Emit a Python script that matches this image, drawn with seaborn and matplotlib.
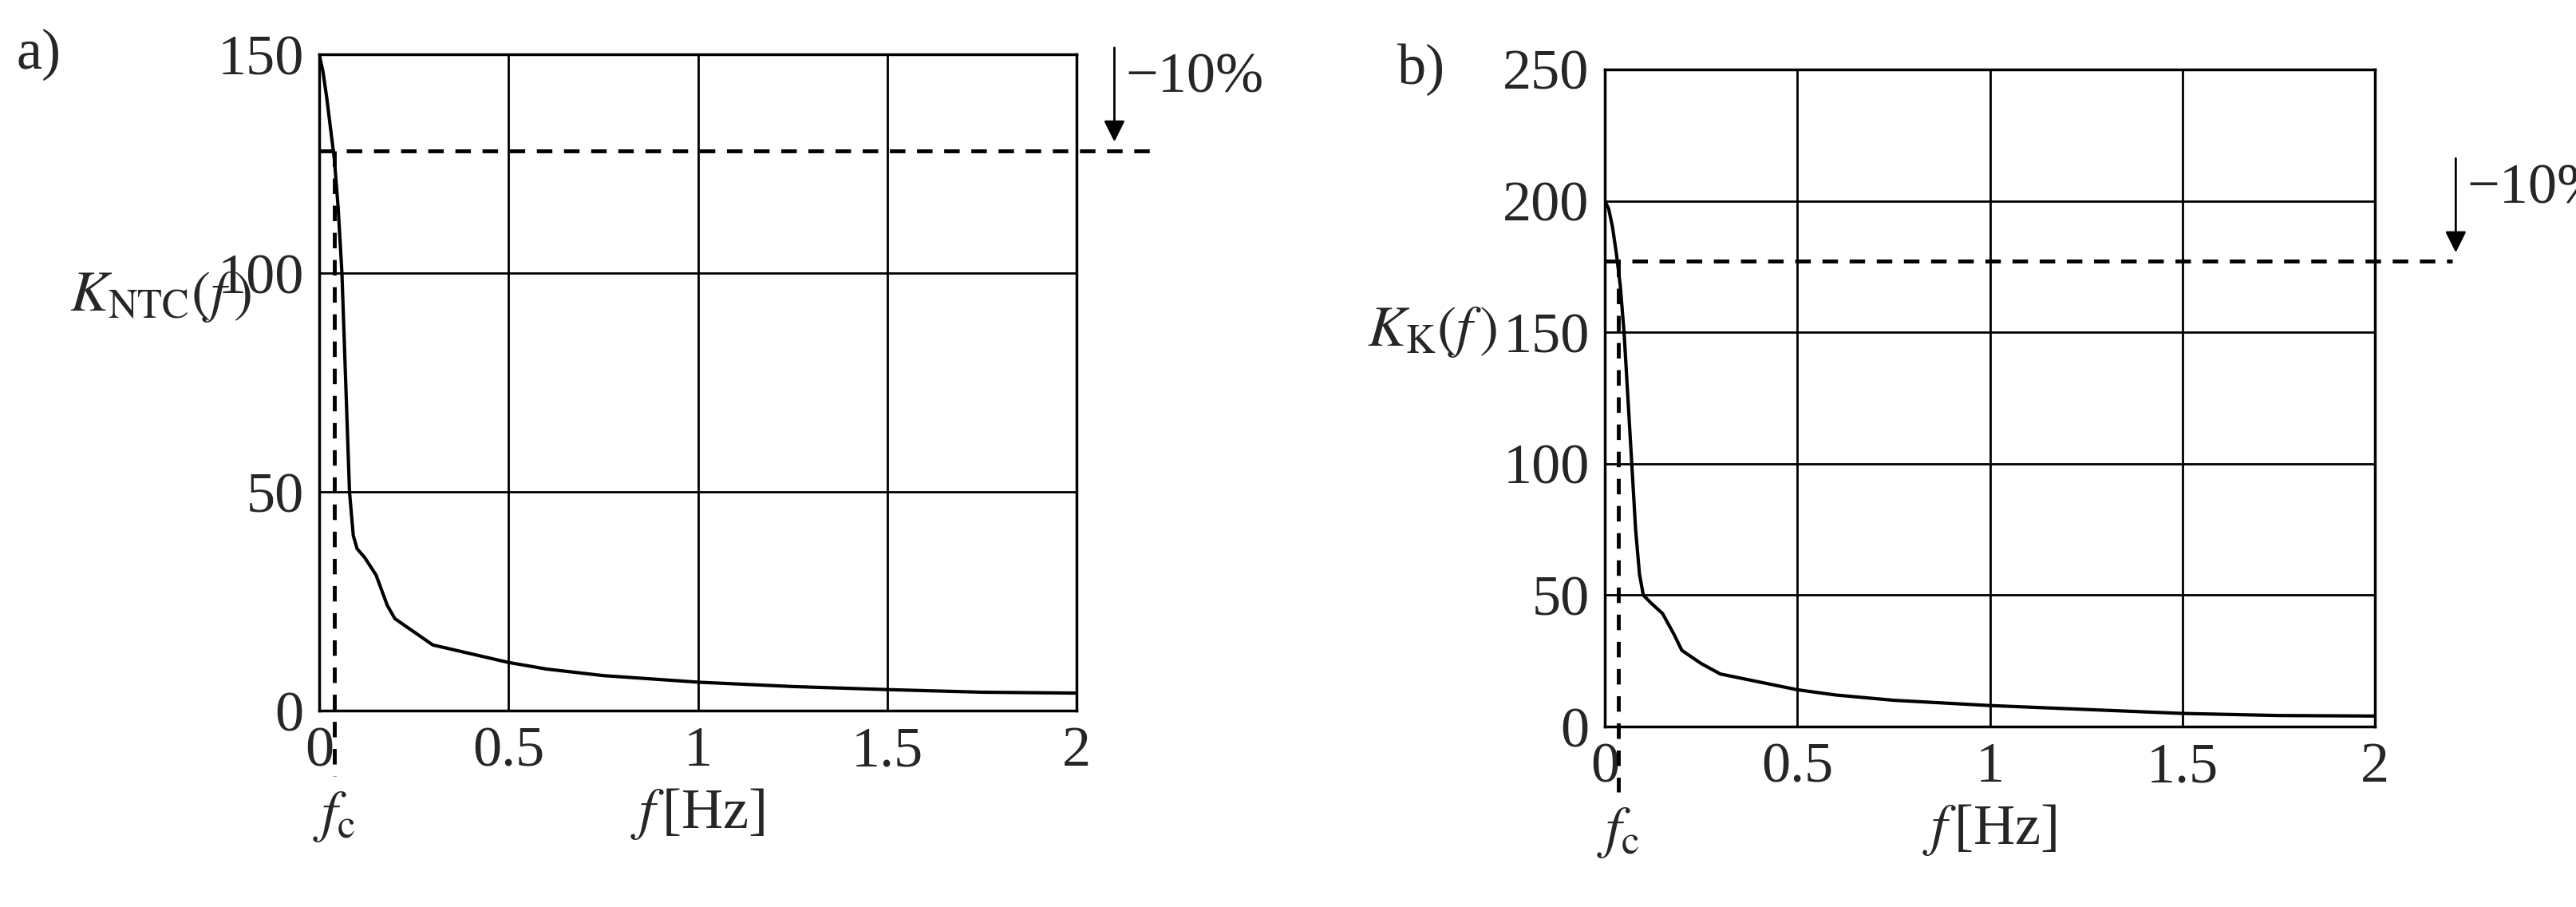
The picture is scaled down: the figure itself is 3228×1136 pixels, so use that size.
import numpy as np
import pandas as pd
import matplotlib
matplotlib.use('Agg')
import matplotlib.pyplot as plt
import seaborn as sns

# panel a) K_NTC(f)
f_a = [0.0, 0.01, 0.02, 0.03, 0.04, 0.05, 0.06, 0.07, 0.08, 0.09, 0.1, 0.12, 0.15, 0.18, 0.2, 0.25,
       0.3, 0.4, 0.5, 0.6, 0.75, 1.0, 1.25, 1.5, 1.75, 2.0]
k_a = [150, 146, 140, 133, 126, 115, 100, 75, 50, 40, 37, 35, 31, 24, 21, 18,
       15, 13, 11, 9.5, 8, 6.5, 5.5, 4.8, 4.2, 4.0]
fc_a = 0.04
lvl_a = 128

# panel b) K_K(f)
f_b = [0.0, 0.01, 0.02, 0.03, 0.04, 0.05, 0.06, 0.07, 0.08, 0.09, 0.1, 0.12, 0.15, 0.18, 0.2, 0.25,
       0.3, 0.4, 0.5, 0.6, 0.75, 1.0, 1.25, 1.5, 1.75, 2.0]
k_b = [200, 197, 190, 180, 168, 150, 125, 100, 75, 58, 50, 47, 43, 35, 29, 24,
       20, 17, 14, 12, 10, 8, 6.5, 5, 4.2, 4.0]
fc_b = 0.035
lvl_b = 177

sns.set_style('white')
plt.rcParams['font.family'] = ['Liberation Serif', 'DejaVu Serif']
plt.rcParams['mathtext.fontset'] = 'stix'

fig = plt.figure(figsize=(32.28, 11.36), dpi=100)
ax_a = fig.add_axes([400 / 3228, 1 - 890 / 1136, 949 / 3228, 822 / 1136])
ax_b = fig.add_axes([2011 / 3228, 1 - 910 / 1136, 965 / 3228, 823 / 1136])

FS = 52


def panel(ax, f, k, fc, lvl, ymax, ystep, ylab, tag, lab_xy, tag_x, arr_x):
    df = pd.DataFrame({'f': f, 'K': k})
    ax.set_xlim(0, 2)
    ax.set_ylim(0, ymax)
    ax.set_xticks([0, 0.5, 1, 1.5, 2])
    ax.set_xticklabels(['0', '0.5', '1', '1.5', '2'])
    ax.set_yticks(np.arange(0, ymax + 1, ystep))
    ax.grid(True, color='black', linewidth=2)
    ax.tick_params(labelsize=FS, length=0, pad=14)
    for s in ax.spines.values():
        s.set_color('black')
        s.set_linewidth(2.5)
    sns.lineplot(data=df, x='f', y='K', ax=ax, color='black', linewidth=3)
    ax.set_xlabel('')
    ax.set_ylabel('')
    # -10% level, running past the right edge
    ax.plot([0, 2.2], [lvl, lvl], ls=(0, (4, 3)), color='black', lw=3.5, clip_on=False)
    # cutoff frequency marker
    ax.plot([fc, fc], [lvl, -ymax * 0.1], ls=(0, (4, 3)), color='black', lw=3.5, clip_on=False)
    ax.annotate('', xy=(arr_x, lvl + ymax * 0.01), xytext=(arr_x, lvl + ymax * 0.16),
                arrowprops=dict(arrowstyle='-|>', color='black', lw=2, mutation_scale=40),
                annotation_clip=False)
    ax.text(arr_x + 0.03, lvl + ymax * 0.11, '\u221210%', fontsize=FS, va='center', ha='left')
    ax.text(fc, -ymax * 0.12, r'$f_{\rm c}$', fontsize=FS, ha='center', va='top')
    ax.text(1.0, -ymax * 0.115, r'$f\,$[Hz]', fontsize=FS, ha='center', va='top')
    ax.text(lab_xy[0], lab_xy[1], ylab, fontsize=FS, ha='right', va='center',
            transform=ax.transAxes)
    ax.text(tag_x, 1.0, tag, fontsize=FS, ha='left', va='center', transform=ax.transAxes)


panel(ax_a, f_a, k_a, fc_a, lvl_a, 150, 50, r'$K_{\rm NTC}(f\,)$', 'a)', (-0.09, 0.63), -0.40, 2.10)
panel(ax_b, f_b, k_b, fc_b, lvl_b, 250, 50, r'$K_{\rm K}(f\,)$', 'b)', (-0.14, 0.6), -0.27, 2.21)

fig.savefig('out.png', dpi=100, facecolor='white')
